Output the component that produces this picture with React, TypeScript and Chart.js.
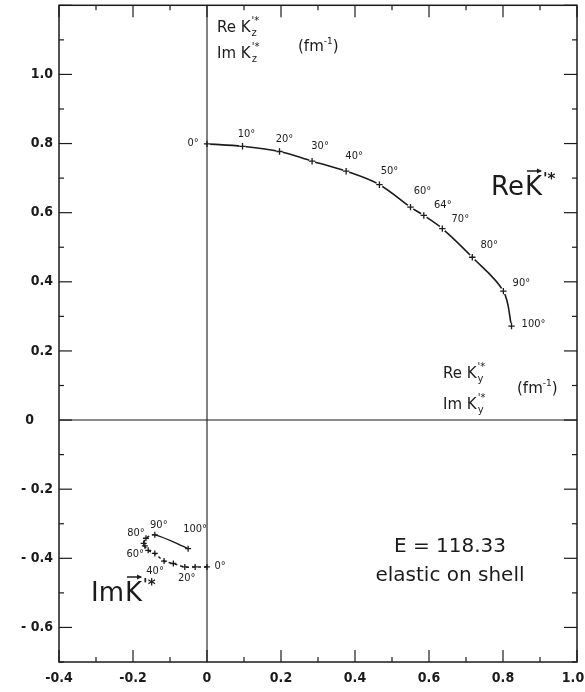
import React, { useEffect, useRef } from "react";
import { Chart, registerables } from "chart.js";
Chart.register(...registerables);

// angles of the points (degrees)
const angles = [0, 10, 20, 30, 40, 50, 60, 64, 70, 80, 90, 100];
// Re K'* (y component on x axis, z component on y axis)
const reKy = [0.0, 0.096, 0.196, 0.284, 0.376, 0.466, 0.55, 0.586, 0.636, 0.717, 0.801, 0.823];
const reKz = [0.799, 0.792, 0.777, 0.749, 0.72, 0.681, 0.616, 0.592, 0.554, 0.471, 0.373, 0.272];
// Im K'*
const imKy = [0.0, -0.032, -0.06, -0.091, -0.116, -0.141, -0.159, -0.168, -0.171, -0.165, -0.141, -0.051];
const imKz = [-0.425, -0.425, -0.425, -0.415, -0.408, -0.386, -0.377, -0.364, -0.357, -0.342, -0.332, -0.372];
// which angles are labelled
const reLabelled = [0, 10, 20, 30, 40, 50, 60, 64, 70, 80, 90, 100];
const imLabelled = [0, 20, 40, 60, 80, 90, 100];
// axes
const xMin = -0.4, xMax = 1.0, yMin = -0.7, yMax = 1.2;
const xTickValues = [-0.4, -0.2, 0, 0.2, 0.4, 0.6, 0.8, 1.0];
const xTickLabels = ["-0.4", "-0.2", "0", "0.2", "0.4", "0.6", "0.8", "1.0"];
const yTickValues = [1.0, 0.8, 0.6, 0.4, 0.2, 0, -0.2, -0.4, -0.6];
const yTickLabels = ["1.0", "0.8", "0.6", "0.4", "0.2", "0", "- 0.2", "- 0.4", "- 0.6"];

// label offsets (pixels, style only)
const reLabelOffsets: Record<number, [number, number]> = {
  0: [-14, -1], 10: [4, -12], 20: [5, -12], 30: [8, -15], 40: [8, -15], 50: [10, -14],
  60: [12, -16], 64: [19, -10], 70: [18, -9], 80: [17, -12], 90: [18, -8], 100: [22, -2],
};
const imLabelOffsets: Record<number, [number, number]> = {
  0: [13, -1], 20: [2, 11], 40: [-9, 10], 60: [-13, 4], 80: [-10, -5], 90: [4, -10], 100: [7, -19],
};

const INK = "#1b1b1b";
const FONT = '"DejaVu Sans", sans-serif';
const COND = '"DejaVu Sans Condensed", "Liberation Sans Narrow", "DejaVu Sans", sans-serif';

function drawArrow(ctx: CanvasRenderingContext2D, x1: number, x2: number, yy: number) {
  ctx.beginPath();
  ctx.moveTo(x1, yy);
  ctx.lineTo(x2, yy);
  ctx.stroke();
  ctx.beginPath();
  ctx.moveTo(x2 + 1, yy);
  ctx.lineTo(x2 - 4, yy - 2.5);
  ctx.lineTo(x2 - 4, yy + 2.5);
  ctx.closePath();
  ctx.fill();
}

const decor = {
  id: "decor",
  afterDraw(chart: any) {
    const { ctx, chartArea: a } = chart;
    const xs = chart.scales.x, ys = chart.scales.y;
    const line = (x1: number, y1: number, x2: number, y2: number) => {
      ctx.beginPath(); ctx.moveTo(x1, y1); ctx.lineTo(x2, y2); ctx.stroke();
    };
    ctx.save();
    ctx.strokeStyle = INK;
    ctx.fillStyle = INK;
    // zero lines
    ctx.lineWidth = 1.1;
    const x0 = xs.getPixelForValue(0), y0 = ys.getPixelForValue(0);
    line(x0, a.top, x0, a.bottom);
    line(a.left, y0, a.right, y0);
    // frame
    ctx.lineWidth = 1.5;
    ctx.strokeRect(a.left, a.top, a.right - a.left, a.bottom - a.top);
    // ticks
    ctx.lineWidth = 1.2;
    for (let i = Math.round(xMin * 10); i <= Math.round(xMax * 10); i++) {
      const px = xs.getPixelForValue(i / 10);
      const L = i % 2 === 0 ? 12 : 5;
      line(px, a.bottom, px, a.bottom - L);
      line(px, a.top, px, a.top + L);
    }
    for (let i = Math.round(yMin * 10); i <= Math.round(yMax * 10); i++) {
      const py = ys.getPixelForValue(i / 10);
      const L = i % 2 === 0 ? 13 : 5;
      line(a.left, py, a.left + L, py);
      line(a.right, py, a.right - L, py);
    }
    // tick labels
    ctx.font = `bold 14px ${COND}`;
    ctx.textBaseline = "middle";
    ctx.textAlign = "center";
    xTickValues.forEach((v, i) => {
      let px = xs.getPixelForValue(v);
      if (i === xTickValues.length - 1) px -= 4;
      ctx.fillText(xTickLabels[i], px, a.bottom + 16);
    });
    ctx.textAlign = "right";
    yTickValues.forEach((v, i) => {
      const py = ys.getPixelForValue(v);
      const px = yTickLabels[i] === "0" ? 34 : a.left - 6;
      ctx.fillText(yTickLabels[i], px, py);
    });

    // angle labels
    ctx.font = `11px ${COND}`;
    ctx.textAlign = "center";
    ctx.textBaseline = "middle";
    angles.forEach((ang, i) => {
      if (reLabelled.includes(ang)) {
        const px = xs.getPixelForValue(reKy[i]), py = ys.getPixelForValue(reKz[i]);
        const o = reLabelOffsets[ang];
        ctx.fillText(`${ang}°`, px + o[0], py + o[1]);
      }
      if (imLabelled.includes(ang)) {
        const px = xs.getPixelForValue(imKy[i]), py = ys.getPixelForValue(imKz[i]);
        const o = imLabelOffsets[ang];
        ctx.fillText(`${ang}°`, px + o[0], py + o[1]);
      }
    });

    // component labels
    ctx.textAlign = "left";
    ctx.textBaseline = "alphabetic";
    const comp = (prefix: string, sub: string, x: number, y: number) => {
      ctx.font = `15px ${FONT}`;
      const t = prefix + " K";
      ctx.fillText(t, x, y);
      const w = ctx.measureText(t).width;
      ctx.font = `10px ${FONT}`;
      ctx.fillText("'*", x + w + 1, y - 8);
      ctx.fillText(sub, x + w + 1, y + 4);
    };
    const fm = (x: number, y: number) => {
      ctx.font = `15px ${FONT}`;
      ctx.fillText("(fm", x, y);
      let w = ctx.measureText("(fm").width;
      ctx.font = `9px ${FONT}`;
      ctx.fillText("-1", x + w, y - 7);
      const w2 = ctx.measureText("-1").width;
      ctx.font = `15px ${FONT}`;
      ctx.fillText(")", x + w + w2, y);
    };
    comp("Re", "z", 217, 32);
    comp("Im", "z", 217, 58);
    fm(298, 51);
    comp("Re", "y", 443, 378);
    comp("Im", "y", 443, 409);
    fm(517, 393);

    // big vector labels
    const big = (prefix: string, x: number, y: number) => {
      ctx.font = `26px ${FONT}`;
      ctx.fillText(prefix, x, y);
      const w = ctx.measureText(prefix).width;
      const kx = x + w + 1;
      ctx.fillText("K", kx, y);
      const kw = ctx.measureText("K").width;
      ctx.lineWidth = 1.5;
      drawArrow(ctx, kx + 2, kx + kw - 1, y - 24);
      ctx.font = `bold 15px ${FONT}`;
      ctx.fillText("'*", kx + kw + 1, y - 11);
    };
    big("Re", 491, 195);
    big("Im", 91, 601);

    // energy text
    ctx.font = `20px ${FONT}`;
    ctx.textAlign = "center";
    ctx.fillText("E = 118.33", 450, 552);
    ctx.fillText("elastic on shell", 450, 581);
    ctx.restore();
  },
};

export default function App() {
  const ref = useRef<HTMLCanvasElement>(null);
  useEffect(() => {
    document.body.style.margin = "0";
    const reData = reKy.map((v, i) => ({ x: v, y: reKz[i] }));
    const imData = imKy.map((v, i) => ({ x: v, y: imKz[i] }));
    const chart = new Chart(ref.current as HTMLCanvasElement, {
      type: "scatter",
      data: {
        datasets: [
          {
            label: "Re K'*",
            data: reData,
            showLine: true,
            borderColor: INK,
            borderWidth: 1.6,
            tension: 0.35,
            pointRadius: 0,
            order: 5,
          },
          {
            label: "gap",
            data: reData,
            showLine: false,
            pointRadius: 3.2,
            pointBackgroundColor: "#ffffff",
            pointBorderWidth: 0,
            pointBorderColor: "#ffffff",
            order: 4,
          },
          {
            label: "Re markers",
            data: reData,
            showLine: false,
            pointStyle: "cross",
            pointRadius: 3.2,
            pointBorderWidth: 1.3,
            pointBorderColor: INK,
            order: 3,
          },
          {
            label: "Im K'*",
            data: imData,
            showLine: true,
            borderColor: INK,
            borderWidth: 1.4,
            tension: 0.35,
            borderDash: [],
            segment: {
              borderDash: (c: any) => (c.p0DataIndex < angles.indexOf(90) ? [3, 3] : undefined),
            },
            pointStyle: "cross",
            pointRadius: 3,
            pointBorderWidth: 1.3,
            pointBorderColor: INK,
            order: 2,
          },
        ],
      },
      options: {
        responsive: false,
        animation: false,
        events: [],
        layout: { padding: { left: 59, right: 8, top: 4, bottom: 30 } },
        plugins: { legend: { display: false }, tooltip: { enabled: false } },
        scales: {
          x: { type: "linear", min: xMin, max: xMax, display: false },
          y: { type: "linear", min: yMin, max: yMax, display: false },
        },
      },
      plugins: [decor],
    });
    return () => chart.destroy();
  }, []);
  return (
    <canvas ref={ref} width={585} height={692} style={{ display: "block", width: 585, height: 692 }} />
  );
}
